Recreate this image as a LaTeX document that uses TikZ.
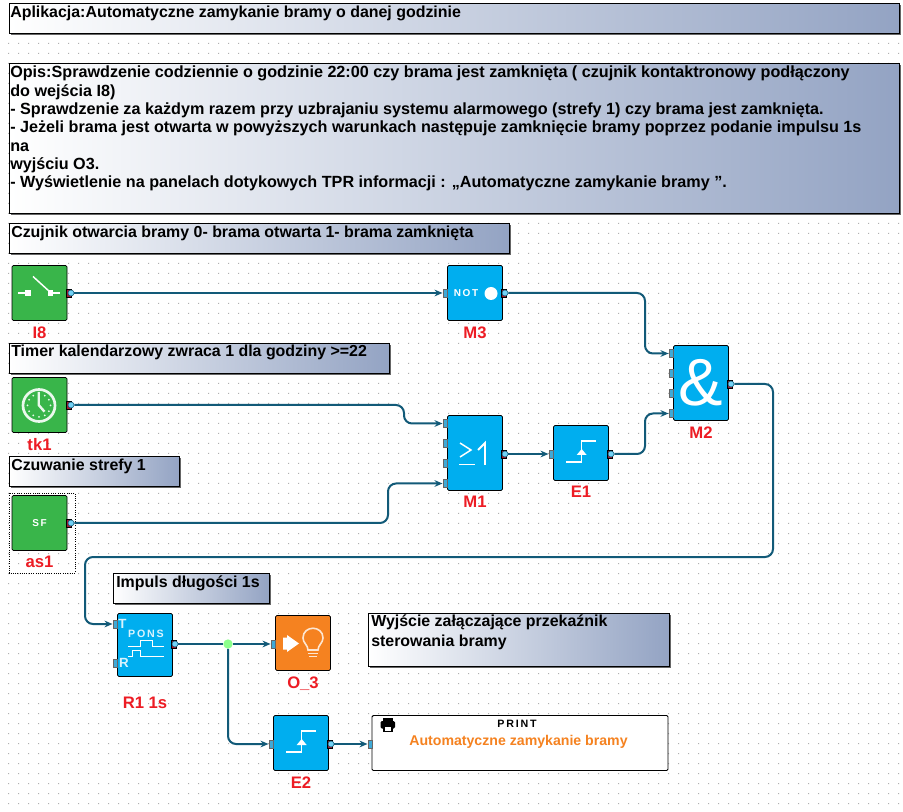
\documentclass[tikz,border=0pt]{standalone}
\usepackage{fontspec}
\setmainfont{Liberation Sans}
\usepackage{tikz}
\usetikzlibrary{positioning, arrows.meta, shadows, calc}
\definecolor{blockgreen}{HTML}{39B54A}
\definecolor{blockblue}{HTML}{00AEEF}
\definecolor{blockorange}{HTML}{F58220}
\definecolor{labelred}{HTML}{ED1C24}
\definecolor{wirecol}{HTML}{125A78}
\definecolor{noteblue}{HTML}{93A3C3}
\definecolor{griddot}{HTML}{B0B0B0}
\definecolor{portblue}{HTML}{3FA9D6}
\definecolor{portred}{HTML}{9E1B32}
\tikzset{
  notebox/.style={draw=black, line width=0.9pt, left color=white, right color=noteblue, inner sep=0pt, anchor=north west,
    general shadow={shadow xshift=0.8pt, shadow yshift=-0.8pt, fill=black!60}},
  notetext/.style={anchor=north west, align=left, inner sep=0pt, font=\fontsize{11.95}{13.8}\selectfont\bfseries},
  blockbox/.style={draw=black, line width=0.6pt, rounded corners=1pt, minimum width=41.25pt, minimum height=41.25pt, inner sep=0pt},
  greenblock/.style={blockbox, fill=blockgreen},
  blueblock/.style={blockbox, fill=blockblue},
  orangeblock/.style={blockbox, fill=blockorange},
  inport/.style={draw=black!60, line width=0.3pt, fill=portblue, minimum width=3.4pt, minimum height=6pt, inner sep=0pt},
  outport/.style={circle, draw=wirecol, line width=0.4pt, fill=cyan!55!white, minimum size=4.5pt, inner sep=0pt},
  outback/.style={draw=black, line width=0.3pt, fill=portred, minimum width=3.6pt, minimum height=6pt, inner sep=0pt},
  blocklabel/.style={text=labelred, font=\fontsize{12.5}{14}\selectfont\bfseries, inner sep=0pt},
  icontext/.style={text=white, font=\fontsize{7.5}{8}\selectfont\bfseries, inner sep=0pt},
  iconline/.style={draw=white, line width=1.1pt},
  wire/.style={draw=wirecol, line width=1.5pt, rounded corners=6pt},
  wirein/.style={wire, -{Stealth[length=6pt, width=5pt]}},
}
\begin{document}
\begin{tikzpicture}[x=0.75pt, y=-0.75pt]
\useasboundingbox (0,0) rectangle (903,812);
\fill[white] (0,0) rectangle (903,812);
\fill[griddot] \foreach \x in {8,18,...,898} {\foreach \y in {43,53,...,803} {(\x,\y) rectangle ++(1,1)}};

\node[notebox, minimum width=667.5pt, minimum height=22.5pt] (title) at (9,3) {};
\node[notetext] (titletext) at (10,6) {Aplikacja:Automatyczne zamykanie bramy o danej godzinie};
\node[notebox, minimum width=667.5pt, minimum height=112.5pt] (opis) at (9,63) {};
\node[notetext, font=\fontsize{12.13}{13.75}\selectfont\bfseries] (opistext) at (10,66) {Opis:Sprawdzenie codziennie o godzinie 22:00 czy brama jest zamknięta ( czujnik kontaktronowy podłączony\\do wejścia I8)\\- Sprawdzenie za każdym razem przy uzbrajaniu systemu alarmowego (strefy 1) czy brama jest zamknięta.\\- Jeżeli brama jest otwarta w powyższych warunkach następuje zamknięcie bramy poprzez podanie impulsu 1s\\na\\wyjściu O3.\\- Wyświetlenie na panelach dotykowych TPR informacji : „Automatyczne zamykanie bramy ”.};
\node[notebox, minimum width=375pt, minimum height=22.5pt] (noteI) at (9,223) {};
\node[notetext] (noteItext) at (11,226) {Czujnik otwarcia bramy 0- brama otwarta 1- brama zamknięta};
\node[notebox, minimum width=285pt, minimum height=22.5pt] (noteT) at (9,343) {};
\node[notetext] (noteTtext) at (11,345) {Timer kalendarzowy zwraca 1 dla godziny >=22};
\node[notebox, minimum width=127.5pt, minimum height=22.5pt] (noteS) at (9,456) {};
\node[notetext] (noteStext) at (11,459) {Czuwanie strefy 1};
\node[notebox, minimum width=117pt, minimum height=22.5pt] (noteP) at (113,573) {};
\node[notetext] (notePtext) at (116,576) {Impuls długości 1s};
\node[notebox, minimum width=225.75pt, minimum height=39.75pt] (noteO) at (368,613) {};
\node[notetext, font=\fontsize{11.95}{15}\selectfont\bfseries] (noteOtext) at (371,615) {Wyjście załączające przekaźnik\\sterowania bramy};

\node[greenblock] (I8) at (39.5,293) {};
\node[greenblock] (tk1) at (39.5,405) {};
\node[greenblock] (as1) at (39.5,523) {};
\node[blueblock] (M3) at (475,293) {};
\node[blueblock, minimum height=56.25pt] (M1) at (475,453) {};
\node[blueblock] (E1) at (581,453) {};
\node[blueblock, minimum height=56.25pt] (M2) at (701,383) {};
\node[blueblock, minimum height=47.25pt] (R1) at (145,645) {};
\node[orangeblock] (O3) at (303,643) {};
\node[blueblock] (E2) at (301,743) {};
\node[draw=black, line width=0.7pt, rounded corners=1pt, fill=white, minimum width=222pt, minimum height=41.25pt, inner sep=0pt] (prn) at (520,743) {};
\draw[densely dotted, line width=0.7pt] (9,493) rectangle (75,573);

\node[blocklabel, below=4pt of I8] (I8lab) {I8};
\node[blocklabel, below=4pt of tk1] (tk1lab) {tk1};
\node[blocklabel, below=4pt of as1] (as1lab) {as1};
\node[blocklabel, below=4pt of M3] (M3lab) {M3};
\node[blocklabel, below=4pt of M1] (M1lab) {M1};
\node[blocklabel, below=4pt of E1] (E1lab) {E1};
\node[blocklabel, below=4pt of M2] (M2lab) {M2};
\node[blocklabel, below=15pt of R1] (R1lab) {R1 1s};
\node[blocklabel, below=4pt of O3] (O3lab) {O\_3};
\node[blocklabel, below=4pt of E2] (E2lab) {E2};

\node[outback] (I8b) at (68.5,293) {};
\node[outback] (tk1b) at (68.5,405) {};
\node[outback] (as1b) at (68.5,523) {};
\node[outback] (M3b) at (503.5,293) {};
\node[outback] (M1b) at (503.5,454) {};
\node[outback] (E1b) at (609.5,454) {};
\node[outback] (M2b) at (729.5,384) {};
\node[outback] (R1b) at (173.5,644) {};
\node[outback] (E2b) at (329.5,744) {};

\node[inport] (M3a) at (445,293) {};
\node[inport] (M1a) at (445,423.5) {};
\node[inport] (M1c) at (445,443.5) {};
\node[inport] (M1d) at (445,463.5) {};
\node[inport] (M1e) at (445,483.5) {};
\node[inport] (E1a) at (551,454) {};
\node[inport] (M2a) at (671,353.5) {};
\node[inport] (M2c) at (671,373.5) {};
\node[inport] (M2d) at (671,393.5) {};
\node[inport] (M2e) at (671,413.5) {};
\node[inport] (R1t) at (115,624) {};
\node[inport] (R1r) at (115,663) {};
\node[inport] (O3a) at (273,644) {};
\node[inport] (E2a) at (271,744) {};
\node[inport] (prna) at (370,744) {};

\node[outport] (I8o) at (71,293) {};
\node[outport] (tk1o) at (71,405) {};
\node[outport] (as1o) at (71,523) {};
\node[outport] (M3o) at (505,293) {};
\node[outport] (M1o) at (505,454) {};
\node[outport] (E1o) at (611,454) {};
\node[outport] (M2o) at (731,384) {};
\node[outport] (R1o) at (175,644) {};
\node[outport] (E2o) at (331,744) {};

\coordinate (busA) at (645,0);
\coordinate (busB) at (404,0);
\coordinate (busC) at (388,0);
\coordinate (busD) at (773,557);
\coordinate (busE) at (85,557);

\draw[wirein] (I8o) -- (M3a);
\draw[wirein] (M3o.east) -- (M3o.east -| busA) -- (M2a.west -| busA) -- (M2a.west);
\draw[wirein] (tk1o.east) -- (tk1o.east -| busB) -- (M1a.west -| busB) -- (M1a.west);
\draw[wirein] (as1o.east) -- (as1o.east -| busC) -- (M1e.west -| busC) -- (M1e.west);
\draw[wirein] (M1o) -- (E1a);
\draw[wirein] (E1o.east) -- (E1o.east -| busA) -- (M2e.west -| busA) -- (M2e.west);
\draw[wirein] (M2o.east) -- (M2o.east -| busD) -- (busD) -- (busE) -- (R1t.west -| busE) -- (R1t.west);
\node[circle, fill=green!45!white, minimum size=7pt, inner sep=0pt] (jn) at (228,644) {};
\draw[wire] (R1o) -- (jn);
\draw[wirein] (jn) -- (O3a);
\draw[wirein] (jn.south) -- (jn.south |- E2a) -- (E2a.west);
\draw[wirein] (E2o) -- (prna);

\draw[iconline, line width=1.5pt] (18,293) -- (26,293);
\draw[iconline, line width=1.5pt] (48,293) -- (60,293);
\fill[white] (25,290) rectangle (31,296);
\fill[white] (47.5,290) rectangle (53,296);
\draw[iconline] (33,276.5) -- (50,292);

\draw[white!90!blockgreen, line width=2pt] (39,405.5) circle (16);
\foreach \a in {0,30,...,330} {\fill[white!90!blockgreen] ($(39,405.5)+(\a:11.5)$) circle (1);}
\draw[white!90!blockgreen, line width=1.8pt] (38.7,392) -- (38.7,405) -- (44.5,411.7);
\node[icontext] (as1txt) at (39.5,523) {S\,F};

\node[icontext] (M3txt) at (466,293) {N\,O\,T};
\fill[white] (491,293.5) circle (6.5);

\draw[iconline] (459,464.5) -- (475,464.5);
\draw[iconline] (460,443) -- (471,450) -- (460,457);
\draw[iconline, line width=1.4pt] (478,450) -- (485,443) -- (485,465);

\node[text=white, font=\fontsize{50}{50}\selectfont, inner sep=0pt] (M2txt) at (701,383) {\&};

\draw[iconline] (566,462) -- (581.7,462) -- (581.7,441) -- (596,441);
\fill[white] (581.7,449) -- (586.7,455) -- (576.7,455) -- cycle;
\draw[iconline] (286,752) -- (301.7,752) -- (301.7,731) -- (316,731);
\fill[white] (301.7,739) -- (306.7,745) -- (296.7,745) -- cycle;

\node[icontext, font=\fontsize{10}{10}\selectfont\bfseries, text=white!85!blockblue] (R1T) at (122.5,624) {T};
\node[icontext, font=\fontsize{10}{10}\selectfont\bfseries, text=white!85!blockblue] (R1R) at (124,663) {R};
\node[icontext, font=\fontsize{8}{8}\selectfont\bfseries, text=white!85!blockblue] (R1txt) at (146,634) {P\,O\,N\,S};
\draw[draw=white, line width=0.6pt] (128,646.7) -- (140,646.7) -- (140,640.7) -- (152,640.7) -- (152,646.7) -- (164,646.7);
\draw[draw=white, line width=0.6pt] (128,656.7) -- (132.7,656.7) -- (132.7,650.7) -- (140,650.7) -- (140,656.7) -- (164,656.7);

\fill[white] (283,637.5) -- (287,637.5) -- (287,635) -- (299,643.5) -- (287,652) -- (287,649.5) -- (283,649.5) -- cycle;
\draw[draw=white!80!blockorange, line width=1.2pt] (308,650) .. controls (308,645) and (303,643) .. (303,638) .. controls (303,625) and (323,625) .. (323,638) .. controls (323,643) and (318,645) .. (318,650) -- cycle;
\draw[draw=white!80!blockorange, line width=1pt] (308,653.5) -- (318,653.5);
\draw[draw=white!80!blockorange, line width=1pt] (309,656.5) -- (317,656.5);

\fill[black, rounded corners=1pt] (380.5,721) rectangle (395,728.5);
\fill[black] (383,718) rectangle (392.5,722);
\fill[black] (383,727) rectangle (392.5,732);
\fill[white] (384.5,727) rectangle (391,730.5);
\node[inner sep=0pt, font=\fontsize{8}{10}\selectfont\bfseries] (prntitle) at (517,724) {P\,R\,I\,N\,T};
\node[inner sep=0pt, text=blockorange, font=\fontsize{10.6}{12}\selectfont\bfseries] (prntext) at (518.5,742) {Automatyczne zamykanie bramy};
\end{tikzpicture}
\end{document}
